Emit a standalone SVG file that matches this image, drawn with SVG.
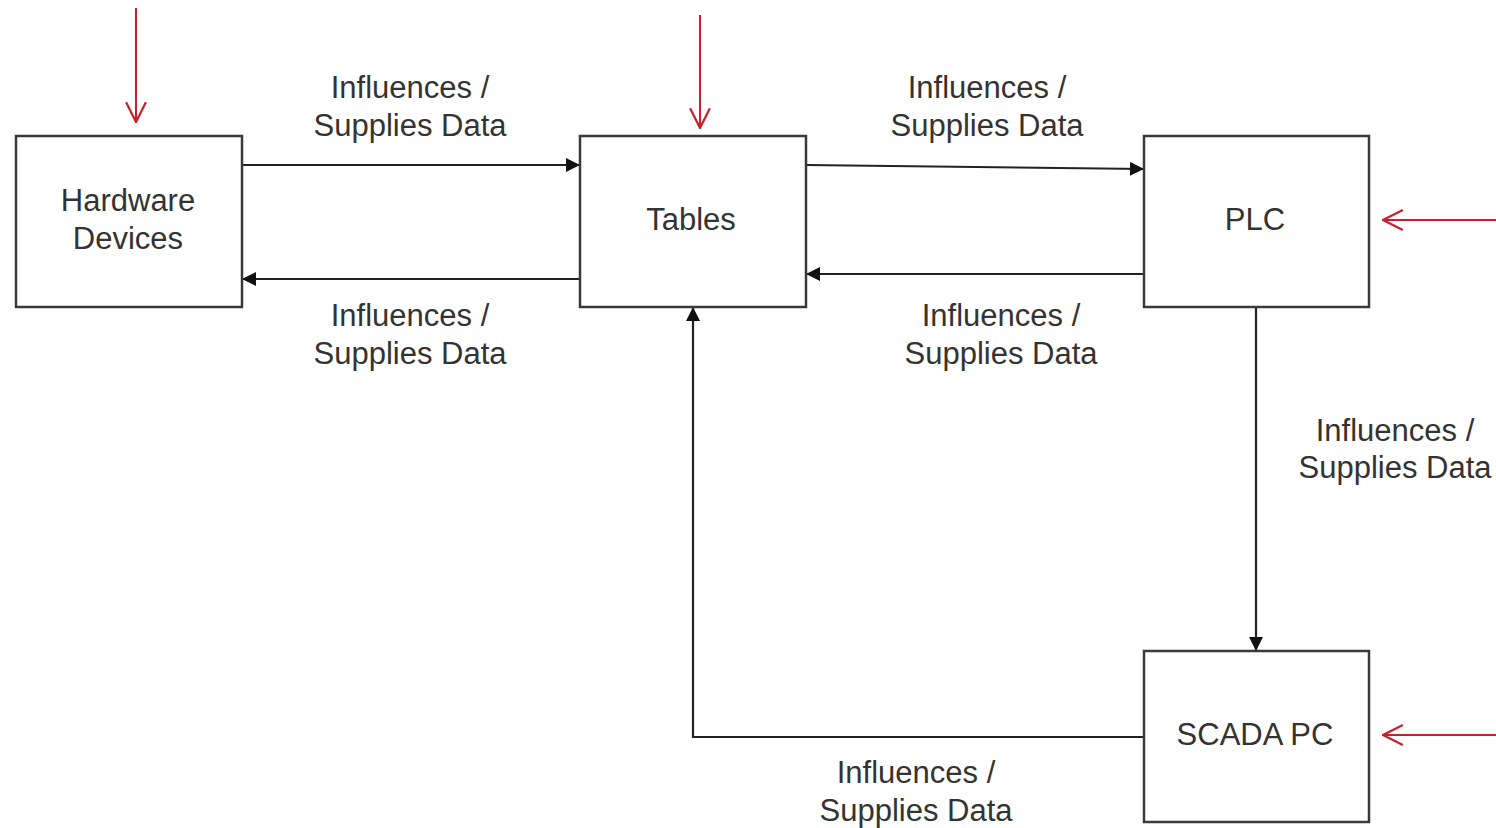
<svg xmlns="http://www.w3.org/2000/svg" width="1496" height="828" viewBox="0 0 1496 828">
  <defs>
    <style>
      .box { fill: #ffffff; stroke: #3a3a3a; stroke-width: 2.5; }
      .lbl { font-family: "Liberation Sans", Arial, sans-serif; font-size: 31px; fill: #333333; text-anchor: middle; }
      .flow { fill: none; stroke: #222222; stroke-width: 2.2; }
      .ext { fill: none; stroke: #c8202a; stroke-width: 2; }
    </style>
    <marker id="solid" viewBox="0 0 10 10" refX="10" refY="5" markerWidth="8" markerHeight="8" markerUnits="userSpaceOnUse" orient="auto">
      <path d="M0,0 L10,5 L0,10 z" fill="#111111"/>
    </marker>
    <marker id="solidHead" viewBox="0 0 12 12" refX="12" refY="6" markerWidth="16" markerHeight="14" markerUnits="userSpaceOnUse" orient="auto">
      <path d="M0,0 L12,6 L0,12 z" fill="#111111"/>
    </marker>
    <marker id="open" viewBox="0 0 20 20" refX="19" refY="10" markerWidth="22" markerHeight="26" markerUnits="userSpaceOnUse" orient="auto">
      <path d="M1,1 L19,10 L1,19" fill="none" stroke="#c8202a" stroke-width="2"/>
    </marker>
  </defs>

  <rect width="1496" height="828" fill="#ffffff"/>

  <!-- Connectors -->
  <g id="connectors">
    <line class="flow" x1="242" y1="165" x2="580" y2="165" marker-end="url(#solidHead)"/>
    <line class="flow" x1="580" y1="279" x2="242" y2="279" marker-end="url(#solidHead)"/>
    <line class="flow" x1="806" y1="165" x2="1144" y2="169" marker-end="url(#solidHead)"/>
    <line class="flow" x1="1144" y1="274" x2="806" y2="274" marker-end="url(#solidHead)"/>
    <line class="flow" x1="1256" y1="307" x2="1256" y2="651" marker-end="url(#solidHead)"/>
    <polyline class="flow" points="1144,737 693,737 693,307" marker-end="url(#solidHead)"/>

    <!-- external inputs -->
    <line class="ext" x1="136" y1="8" x2="136" y2="122" marker-end="url(#open)"/>
    <line class="ext" x1="700" y1="15" x2="700" y2="128" marker-end="url(#open)"/>
    <line class="ext" x1="1496" y1="220" x2="1383" y2="220" marker-end="url(#open)"/>
    <line class="ext" x1="1496" y1="735" x2="1383" y2="735" marker-end="url(#open)"/>

    <!-- connector labels -->
    <text class="lbl" x="410" y="98">Influences /</text>
    <text class="lbl" x="410" y="136">Supplies Data</text>
    <text class="lbl" x="987" y="98">Influences /</text>
    <text class="lbl" x="987" y="136">Supplies Data</text>
    <text class="lbl" x="410" y="326">Influences /</text>
    <text class="lbl" x="410" y="364">Supplies Data</text>
    <text class="lbl" x="1001" y="326">Influences /</text>
    <text class="lbl" x="1001" y="364">Supplies Data</text>
    <text class="lbl" x="1395" y="441">Influences /</text>
    <text class="lbl" x="1395" y="478">Supplies Data</text>
    <text class="lbl" x="916" y="783">Influences /</text>
    <text class="lbl" x="916" y="821">Supplies Data</text>
  </g>

  <!-- Nodes -->
  <g id="hardware-devices">
    <rect class="box" x="16" y="136" width="226" height="171"/>
    <text class="lbl" x="128" y="211">Hardware</text>
    <text class="lbl" x="128" y="249">Devices</text>
  </g>
  <g id="tables">
    <rect class="box" x="580" y="136" width="226" height="171"/>
    <text class="lbl" x="691" y="230">Tables</text>
  </g>
  <g id="plc">
    <rect class="box" x="1144" y="136" width="225" height="171"/>
    <text class="lbl" x="1255" y="230">PLC</text>
  </g>
  <g id="scada-pc">
    <rect class="box" x="1144" y="651" width="225" height="171"/>
    <text class="lbl" x="1255" y="745">SCADA PC</text>
  </g>
</svg>
